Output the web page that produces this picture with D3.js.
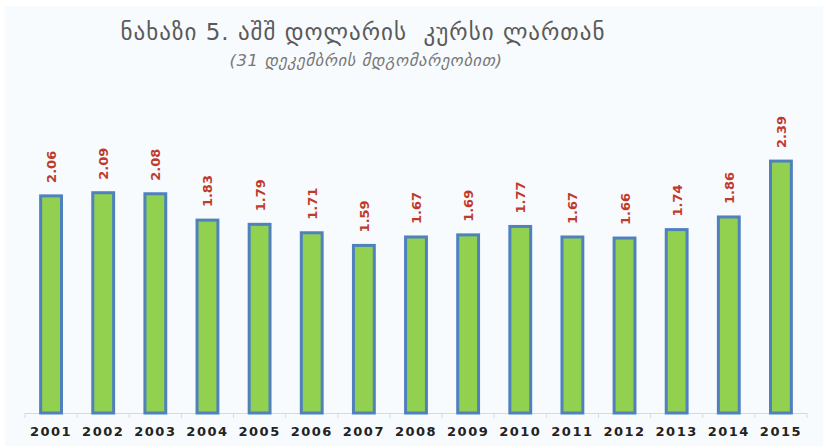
<!doctype html>
<html>
<head>
<meta charset="utf-8">
<script src="https://cdnjs.cloudflare.com/ajax/libs/d3/7.8.5/d3.min.js"></script>
<style>
  body { margin: 0; background: #fff; }
  svg { display: block; }
  .title { font-family: "DejaVu Sans", sans-serif; fill: #5a5a5a; white-space: pre; }
  .val { font-family: "DejaVu Sans", sans-serif; font-weight: bold; fill: #c0392b; font-size: 13px; }
  .xaxis text { font-family: "DejaVu Sans", sans-serif; font-weight: bold; font-size: 13px; fill: #222; letter-spacing: 1.5px; }
</style>
</head>
<body>
<svg width="823" height="446"></svg>
<script>
var years = ["2001","2002","2003","2004","2005","2006","2007","2008","2009","2010","2011","2012","2013","2014","2015"];
var rates = [2.06, 2.09, 2.08, 1.83, 1.79, 1.71, 1.59, 1.67, 1.69, 1.77, 1.67, 1.66, 1.74, 1.86, 2.39];
var titleText = "ნახაზი 5. აშშ დოლარის  კურსი ლართან";
var subtitleText = "(31 დეკემბრის მდგომარეობით)";

var svg = d3.select("svg");

svg.append("rect")
  .attr("x", 5).attr("y", 6)
  .attr("width", 818).attr("height", 440)
  .attr("fill", "#f8fbfe");

var xScale = d3.scaleBand().domain(years).range([25, 807]).paddingInner(0.6).paddingOuter(0.3);
var yScale = d3.scaleLinear().domain([0, 2.5]).range([413, 149.5]);

// axis
var xAxis = d3.axisBottom(xScale).tickSize(0).tickPadding(14);
var gx = svg.append("g").attr("class", "xaxis").attr("transform", "translate(0,413)").call(xAxis);
gx.select(".domain").attr("stroke", "#d9d9d9").attr("d", "M25,0.5H807");
gx.selectAll(".tick text").attr("dy", "0.71em");

// category boundary ticks
var bounds = d3.range(years.length + 1).map(function(i) { return 25 + i * (782 / years.length); });
svg.append("g").selectAll("line")
  .data(bounds)
  .enter().append("line")
    .attr("x1", d => d).attr("x2", d => d)
    .attr("y1", 413).attr("y2", 418)
    .attr("stroke", "#d9d9d9");

// bars
svg.append("g").selectAll("rect")
  .data(rates)
  .enter().append("rect")
    .attr("x", (d, i) => xScale(years[i]))
    .attr("y", d => yScale(d))
    .attr("width", xScale.bandwidth())
    .attr("height", d => 413 - yScale(d))
    .attr("fill", "#92d050")
    .attr("stroke", "#4f81bd")
    .attr("stroke-width", 3);

// value labels
svg.append("g").selectAll("text")
  .data(rates)
  .enter().append("text")
    .attr("class", "val")
    .attr("transform", (d, i) => "translate(" + (xScale(years[i]) + xScale.bandwidth() / 2 + 5) + "," + (yScale(d) - 13) + ") rotate(-90)")
    .text(d => d.toFixed(2));

// titles
svg.append("text")
  .attr("class", "title")
  .attr("x", 363).attr("y", 40)
  .attr("text-anchor", "middle")
  .style("font-size", "23px")
  .style("letter-spacing", "1px")
  .text(titleText);

svg.append("text")
  .attr("class", "title")
  .attr("x", 366).attr("y", 66)
  .attr("text-anchor", "middle")
  .style("font-size", "16.5px")
  .style("font-style", "italic")
  .style("letter-spacing", "0.6px")
  .style("fill", "#777")
  .text(subtitleText);
</script>
</body>
</html>
